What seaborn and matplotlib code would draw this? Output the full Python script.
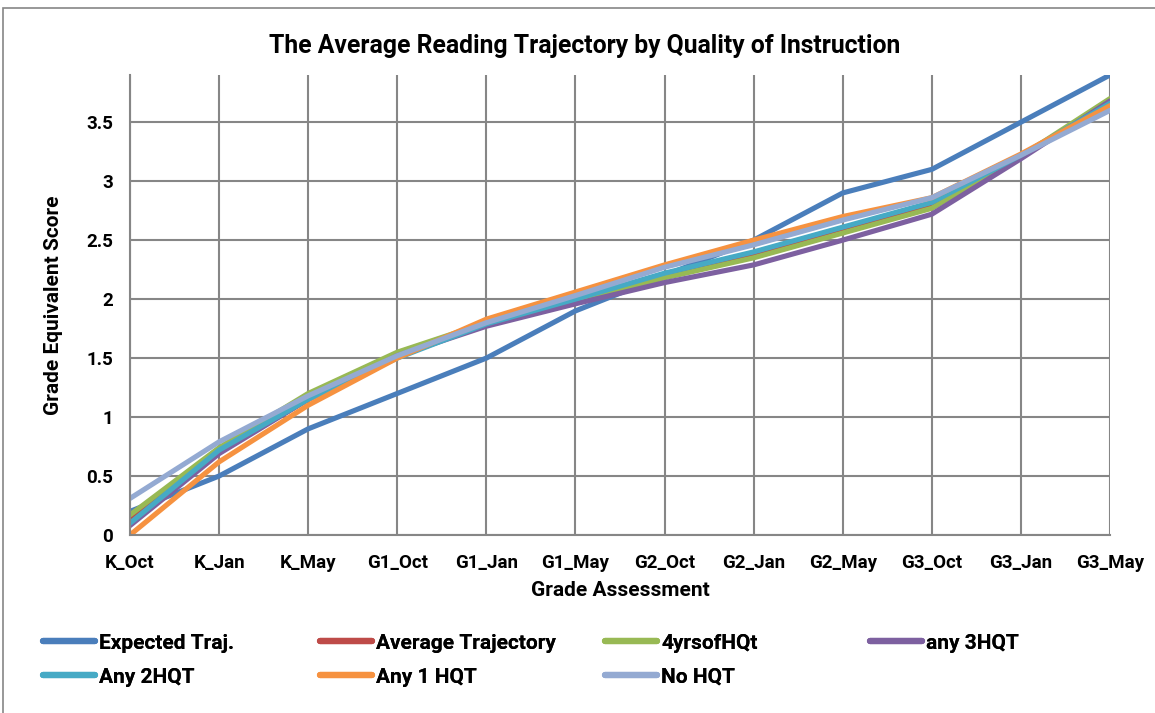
import matplotlib
matplotlib.use('Agg')
import matplotlib.pyplot as plt
import seaborn as sns
import pandas as pd
from matplotlib.patches import Rectangle

# ---------------------------------------------------------
# DATA
# ---------------------------------------------------------
assessments = ['K_Oct', 'K_Jan', 'K_May', 'G1_Oct', 'G1_Jan', 'G1_May',
               'G2_Oct', 'G2_Jan', 'G2_May', 'G3_Oct', 'G3_Jan', 'G3_May']

expected_traj = [0.2, 0.5, 0.9, 1.2, 1.5, 1.9, 2.2, 2.5, 2.9, 3.1, 3.5, 3.9]
average_traj = [0.13, 0.71, 1.15, 1.51, 1.79, 1.99, 2.21, 2.38, 2.6, 2.8, 3.21, 3.67]
four_yrs_hqt = [0.17, 0.74, 1.2, 1.55, 1.8, 1.99, 2.18, 2.35, 2.56, 2.77, 3.21, 3.7]
any_3hqt = [0.08, 0.69, 1.15, 1.52, 1.77, 1.96, 2.14, 2.29, 2.5, 2.72, 3.19, 3.68]
any_2hqt = [0.1, 0.72, 1.15, 1.5, 1.79, 2.0, 2.22, 2.4, 2.61, 2.82, 3.22, 3.66]
any_1hqt = [0.0, 0.62, 1.1, 1.5, 1.83, 2.06, 2.29, 2.5, 2.7, 2.86, 3.23, 3.64]
no_hqt = [0.31, 0.79, 1.18, 1.52, 1.8, 2.03, 2.27, 2.46, 2.67, 2.86, 3.22, 3.6]

series_names = ['Expected Traj.', 'Average Trajectory', '4yrsofHQt', 'any 3HQT',
                'Any 2HQT', 'Any 1 HQT', 'No HQT']
series_values = [expected_traj, average_traj, four_yrs_hqt, any_3hqt,
                 any_2hqt, any_1hqt, no_hqt]
colors = ['#4A7EBB', '#BE4B48', '#98B954', '#7D60A0', '#46AAC5', '#F69240', '#94AAD2']

# long-form table for seaborn
df = pd.DataFrame([
    {'Assessment': a, 'pos': i, 'Score': v, 'Series': name}
    for name, vals in zip(series_names, series_values)
    for i, (a, v) in enumerate(zip(assessments, vals))
])

# ---------------------------------------------------------
# PLOT
# ---------------------------------------------------------
sns.set_theme(style='white')
plt.rcParams['font.family'] = ['Roboto', 'DejaVu Sans']
plt.rcParams['font.weight'] = 'bold'
plt.rcParams['text.color'] = 'black'
plt.rcParams['xtick.color'] = 'black'
plt.rcParams['ytick.color'] = 'black'
plt.rcParams['axes.labelcolor'] = 'black'

fig = plt.figure(figsize=(11.55, 7.13), dpi=100)
ax = fig.add_axes([130 / 1155, 1 - 535 / 713, 980 / 1155, 460 / 713])

palette = dict(zip(series_names, colors))
sns.lineplot(data=df, x='pos', y='Score', hue='Series', hue_order=series_names,
             palette=palette, linewidth=3.7, ax=ax, legend=False, sort=False)

ax.set_xlim(0, len(assessments) - 1)
ax.set_ylim(0, 3.9)
ax.set_xticks(range(len(assessments)))
ax.set_xticklabels(assessments)
ax.set_yticks([0, 0.5, 1, 1.5, 2, 2.5, 3, 3.5])
ax.set_yticklabels(['0', '0.5', '1', '1.5', '2', '2.5', '3', '3.5'])
ax.tick_params(axis='both', length=0, labelsize=13.5)
ax.tick_params(axis='x', pad=14)
ax.tick_params(axis='y', pad=12)
for lbl in ax.get_xticklabels() + ax.get_yticklabels():
    lbl.set_fontweight('bold')

ax.grid(True, color='#868686', linewidth=1.5)
ax.set_axisbelow(True)
for side in ['top', 'right']:
    ax.spines[side].set_visible(False)
for side in ['left', 'bottom']:
    ax.spines[side].set_color('#868686')
    ax.spines[side].set_linewidth(1.5)

ax.set_xlabel('Grade Assessment', fontsize=15, fontweight='bold', labelpad=6)
ax.set_ylabel('Grade Equivalent Score', fontsize=15, fontweight='bold', labelpad=17)
fig.text(585 / 1155, 1 - 46 / 713, 'The Average Reading Trajectory by Quality of Instruction',
         ha='center', va='center', fontsize=17.8, fontweight='bold')

# legend laid out in fixed-width columns like Excel
handles = {n: plt.Line2D([], [], color=c, linewidth=4.5, solid_capstyle='round')
           for n, c in zip(series_names, colors)}
columns = [['Expected Traj.', 'Any 2HQT'], ['Average Trajectory', 'Any 1 HQT'],
           ['4yrsofHQt', 'No HQT'], ['any 3HQT']]
col_x = [24, 301, 586, 851]
for cx, names in zip(col_x, columns):
    leg = fig.legend([handles[n] for n in names], names, loc='upper left',
                     bbox_to_anchor=(cx / 1155, 1 - 615 / 713), frameon=False,
                     handlelength=2.5, handletextpad=0.2, labelspacing=0.72,
                     prop={'size': 15, 'weight': 'bold'})
    fig.add_artist(leg)

# outer chart border
fig.add_artist(Rectangle((3 / 1155, -0.05), 1.2, 1 - 8 / 713 + 0.05,
                         transform=fig.transFigure, fill=False,
                         edgecolor='#868686', linewidth=1.2))

fig.savefig('out.png', dpi=100, facecolor='white')
plt.close(fig)
